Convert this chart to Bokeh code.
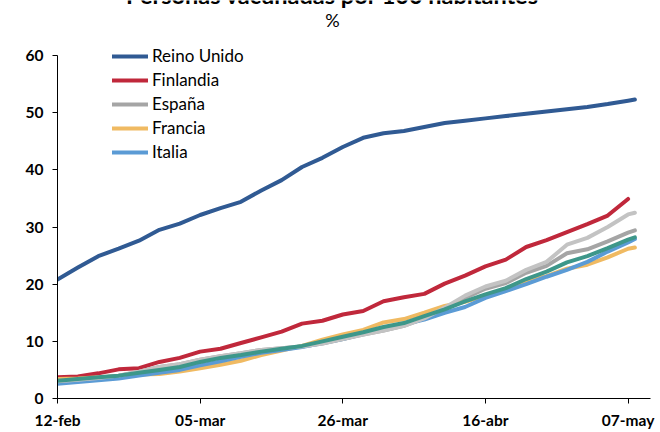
import pandas as pd
from bokeh.plotting import figure
from bokeh.models import Legend, LegendItem, Label, FixedTicker
from bokeh.embed import file_html
from bokeh.resources import INLINE

NAN = float("nan")

fechas = ["2021-02-12", "2021-02-15", "2021-02-18", "2021-02-21", "2021-02-24", "2021-02-27",
          "2021-03-02", "2021-03-05", "2021-03-08", "2021-03-11", "2021-03-14", "2021-03-17",
          "2021-03-20", "2021-03-23", "2021-03-26", "2021-03-29", "2021-04-01", "2021-04-04",
          "2021-04-07", "2021-04-10", "2021-04-13", "2021-04-16", "2021-04-19", "2021-04-22",
          "2021-04-25", "2021-04-28", "2021-05-01", "2021-05-04", "2021-05-07", "2021-05-08"]

reino_unido = [20.8, 22.9, 24.9, 26.2, 27.6, 29.5, 30.6, 32.1, 33.3, 34.4, 36.4, 38.2, 40.5, 42.1, 44.0,
               45.6, 46.4, 46.8, 47.5, 48.2, 48.6, 49.0, 49.4, 49.8, 50.2, 50.6, 51.0, 51.5, 52.1, 52.3]
finlandia = [3.7, 3.85, 4.4, 5.1, 5.3, 6.4, 7.1, 8.2, 8.7, 9.7, 10.7, 11.7, 13.1, 13.6, 14.7,
             15.3, 17.0, 17.7, 18.3, 20.1, 21.5, 23.1, 24.3, 26.5, 27.7, 29.1, 30.5, 32.0, 34.9, NAN]
espana = [3.0, 3.3, 3.6, 4.0, 4.7, 5.5, 6.0, 6.8, 7.4, 7.9, 8.5, 8.8, 9.1, 9.6, 10.4,
          11.2, 11.9, 12.7, 14.0, 15.6, 17.6, 19.2, 20.2, 22.0, 23.2, 25.4, 26.1, 27.5, 29.0, 29.4]
francia = [3.4, 3.5, 3.7, 3.9, 4.2, 4.3, 4.7, 5.3, 5.9, 6.6, 7.6, 8.4, 9.2, 10.3, 11.2,
           12.0, 13.3, 13.9, 15.0, 16.2, 16.9, 18.0, 19.0, 20.6, 21.4, 22.7, 23.4, 24.7, 26.2, 26.4]
italia = [2.6, 2.9, 3.2, 3.5, 4.0, 4.5, 5.0, 5.8, 6.5, 7.3, 8.0, 8.5, 9.0, 9.7, 10.4,
          11.3, 12.1, 13.0, 13.8, 15.0, 16.0, 17.6, 18.8, 20.0, 21.3, 22.5, 23.9, 25.7, 27.3, 27.9]
serie_gris_claro = [3.0, 3.3, 3.6, 4.0, 4.7, 5.5, 6.0, 6.8, 7.4, 7.9, 8.5, 8.8, 9.1, 9.6, 10.4,
                    11.2, 11.9, 12.7, 14.0, 15.9, 18.0, 19.6, 20.6, 22.5, 23.9, 26.9, 28.1, 30.0, 32.2, 32.5]
serie_verde = [3.1, 3.4, 3.7, 4.0, 4.5, 5.0, 5.5, 6.4, 7.1, 7.6, 8.2, 8.7, 9.2, 10.0, 10.8,
               11.6, 12.5, 13.2, 14.4, 15.6, 17.0, 18.2, 19.3, 20.9, 22.2, 23.8, 24.9, 26.3, 27.8, 28.2]

tick_dias = [0, 21, 42, 63, 84]
tick_etiquetas = ["12-feb", "05-mar", "26-mar", "16-abr", "07-may"]
y_ticks = [0, 10, 20, 30, 40, 50, 60]

t0 = pd.Timestamp(fechas[0])
dias = [(pd.Timestamp(f) - t0).days for f in fechas]

FONT = "Lato"
FRAME_H = 398          # frame spans canvas y 0..398
Y_TOP = 60 * FRAME_H / 343.0   # 60 sits at canvas y=55

p = figure(width=660, height=432, output_backend="svg", toolbar_location=None,
           x_range=(0, 87.3), y_range=(0, Y_TOP),
           min_border_left=57, min_border_right=10, min_border_top=0, min_border_bottom=34)
p.outline_line_color = None
p.xgrid.visible = False
p.ygrid.visible = False
p.background_fill_color = "white"
p.border_fill_color = "white"

for ax in (p.xaxis[0], p.yaxis[0]):
    ax.axis_line_color = "black"
    ax.axis_line_width = 1
    ax.major_tick_line_color = "black"
    ax.major_tick_out = 5
    ax.major_tick_in = 0
    ax.minor_tick_out = 0
    ax.minor_tick_in = 0
    ax.major_label_text_font = FONT
    ax.major_label_text_font_style = "bold"
    ax.major_label_text_font_size = "15.5px"
    ax.major_label_text_color = "black"

p.xaxis.ticker = FixedTicker(ticks=tick_dias)
p.xaxis.major_label_overrides = {d: l for d, l in zip(tick_dias, tick_etiquetas)}
p.xaxis.major_label_standoff = 7
p.yaxis.ticker = FixedTicker(ticks=y_ticks)
p.yaxis.bounds = (0, 60)
p.yaxis.major_label_standoff = 9

LW = 4
kw = dict(line_width=LW, line_join="round", line_cap="round")
r_uk = p.line(dias, reino_unido, line_color="#305A93", **kw)
r_fi = p.line(dias, finlandia, line_color="#C0283B", **kw)
r_es = p.line(dias, espana, line_color="#A5A5A5", **kw)
r_fr = p.line(dias, francia, line_color="#F0BA62", **kw)
r_it = p.line(dias, italia, line_color="#5B9BD5", **kw)
r_gc = p.line(dias, serie_gris_claro, line_color="#C3C3C3", **kw)
r_ve = p.line(dias, serie_verde, line_color="#3D978A", **kw)

legend = Legend(items=[LegendItem(label="Reino Unido", renderers=[r_uk]),
                       LegendItem(label="Finlandia", renderers=[r_fi]),
                       LegendItem(label="España", renderers=[r_es]),
                       LegendItem(label="Francia", renderers=[r_fr]),
                       LegendItem(label="Italia", renderers=[r_it])],
                location=(55, 236), padding=0, margin=0, spacing=3,
                glyph_width=36, glyph_height=20, label_height=20, label_standoff=4,
                label_text_font=FONT, label_text_font_size="17px", label_text_color="black",
                border_line_alpha=0, background_fill_alpha=0)
p.add_layout(legend)

titulo = Label(x=275, y=FRAME_H + 6, x_units="screen", y_units="screen",
               text="Personas vacunadas por 100 habitantes", text_align="center",
               text_baseline="alphabetic", text_font=FONT, text_font_style="bold",
               text_font_size="23.5px", text_color="black")
subtitulo = Label(x=275, y=FRAME_H - 19, x_units="screen", y_units="screen", text="%",
                  text_align="center", text_baseline="middle", text_font=FONT,
                  text_font_size="18px", text_color="black")
p.add_layout(titulo)
p.add_layout(subtitulo)

open("out.html", "w").write(file_html(p, INLINE))
